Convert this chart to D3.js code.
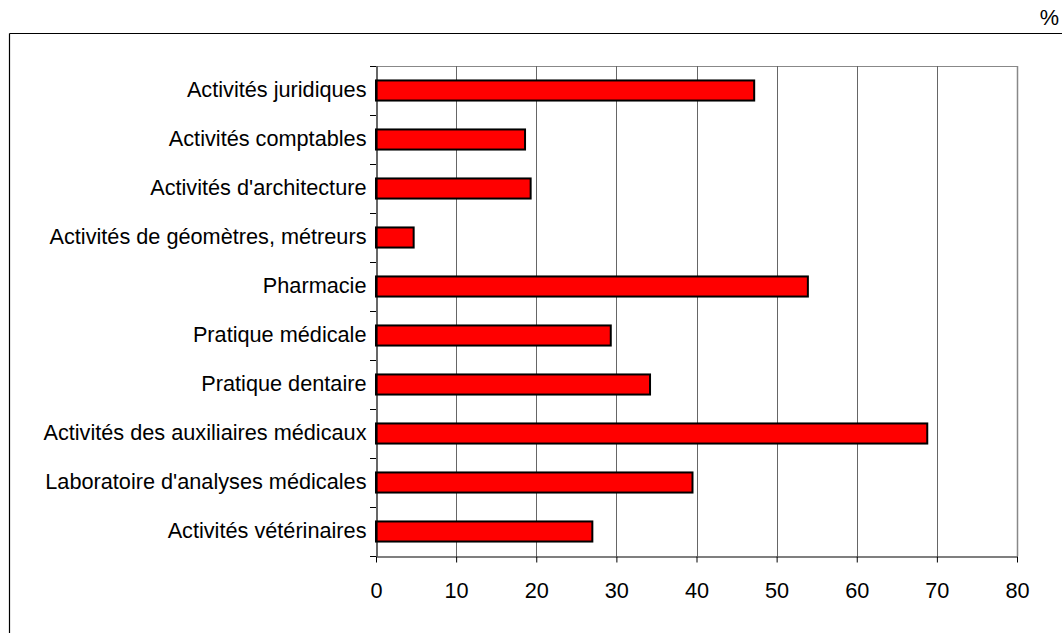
<!DOCTYPE html>
<html><head><meta charset="utf-8">
<script src="https://cdn.jsdelivr.net/npm/d3@7"></script>
<style>body{margin:0;background:#fff}svg{display:block;font-family:"Liberation Sans",Arial,sans-serif}</style>
</head><body>
<svg id="c" width="1062" height="633"></svg>
<script>
const categories = ["Activités juridiques","Activités comptables","Activités d'architecture","Activités de géomètres, métreurs","Pharmacie","Pratique médicale","Pratique dentaire","Activités des auxiliaires médicaux","Laboratoire d'analyses médicales","Activités vétérinaires"];
const values = [47.2, 18.6, 19.3, 4.7, 53.9, 29.3, 34.2, 68.8, 39.5, 27.0];
const xTicks = [0,10,20,30,40,50,60,70,80];
const unitLabel = "%";

const FS = 21.7;
const svg = d3.select("#c");
const L=376, R=1017, T=66, B=556;
const x = d3.scaleLinear().domain([0,80]).range([L,R]);
const y = d3.scaleBand().domain(categories).range([T,B]).paddingInner(0.59).paddingOuter(0.295);
const yb = d3.scaleBand().domain(categories).range([T,B]);

// outer frame
svg.append("line").attr("x1",9.5).attr("x2",1062).attr("y1",33.5).attr("y2",33.5).attr("stroke","#000").attr("stroke-width",1.2);
svg.append("line").attr("x1",9.5).attr("x2",9.5).attr("y1",33.5).attr("y2",633).attr("stroke","#000").attr("stroke-width",1.2);
svg.append("text").attr("x",1059).attr("y",25).attr("text-anchor","end").attr("font-size",FS).text(unitLabel);

// plot border top (gray)
svg.append("line").attr("x1",L).attr("x2",R+0.5).attr("y1",T+0.5).attr("y2",T+0.5).attr("stroke","#888").attr("stroke-width",1.2);
// gridlines
svg.append("g").selectAll("line").data(xTicks.filter(d=>d>0)).join("line")
  .attr("x1",d=>Math.round(x(d))+0.5).attr("x2",d=>Math.round(x(d))+0.5)
  .attr("y1",T).attr("y2",B).attr("stroke",d=>d===80?"#888":"#666").attr("stroke-width",d=>d===80?1.5:1);

// bars
svg.append("g").selectAll("rect").data(values).join("rect")
  .attr("x",x(0)).attr("y",(d,i)=>y(categories[i]))
  .attr("width",d=>x(d)-x(0)).attr("height",y.bandwidth())
  .attr("fill","#ff0000").attr("stroke","#000").attr("stroke-width",2);

// y axis
const yAxis = d3.axisLeft(yb).tickSize(0).tickPadding(10);
const gy = svg.append("g").attr("transform",`translate(${L+0.5},0)`).call(yAxis);
gy.select(".domain").attr("stroke","#000").attr("stroke-width",1.2);
gy.selectAll("text").attr("font-size",FS).attr("fill","#000").attr("font-family","Liberation Sans, Arial, sans-serif");
// y ticks at band boundaries
const bounds = categories.map(c=>yb(c)).concat([B]);
svg.append("g").selectAll("line").data(bounds).join("line")
  .attr("x1",L-6).attr("x2",L).attr("y1",d=>Math.round(d)+0.5).attr("y2",d=>Math.round(d)+0.5).attr("stroke","#000");

// x axis
const xAxis = d3.axisBottom(x).tickValues(xTicks).tickSize(6).tickPadding(20).tickSizeOuter(0);
const gx = svg.append("g").attr("transform",`translate(0,${B+0.5})`).call(xAxis);
gx.select(".domain").attr("stroke","#000").attr("stroke-width",1.2);
gx.selectAll(".tick line").attr("stroke","#000");
gx.selectAll("text").attr("font-size",FS).attr("fill","#000").attr("font-family","Liberation Sans, Arial, sans-serif");
</script>
</body></html>
